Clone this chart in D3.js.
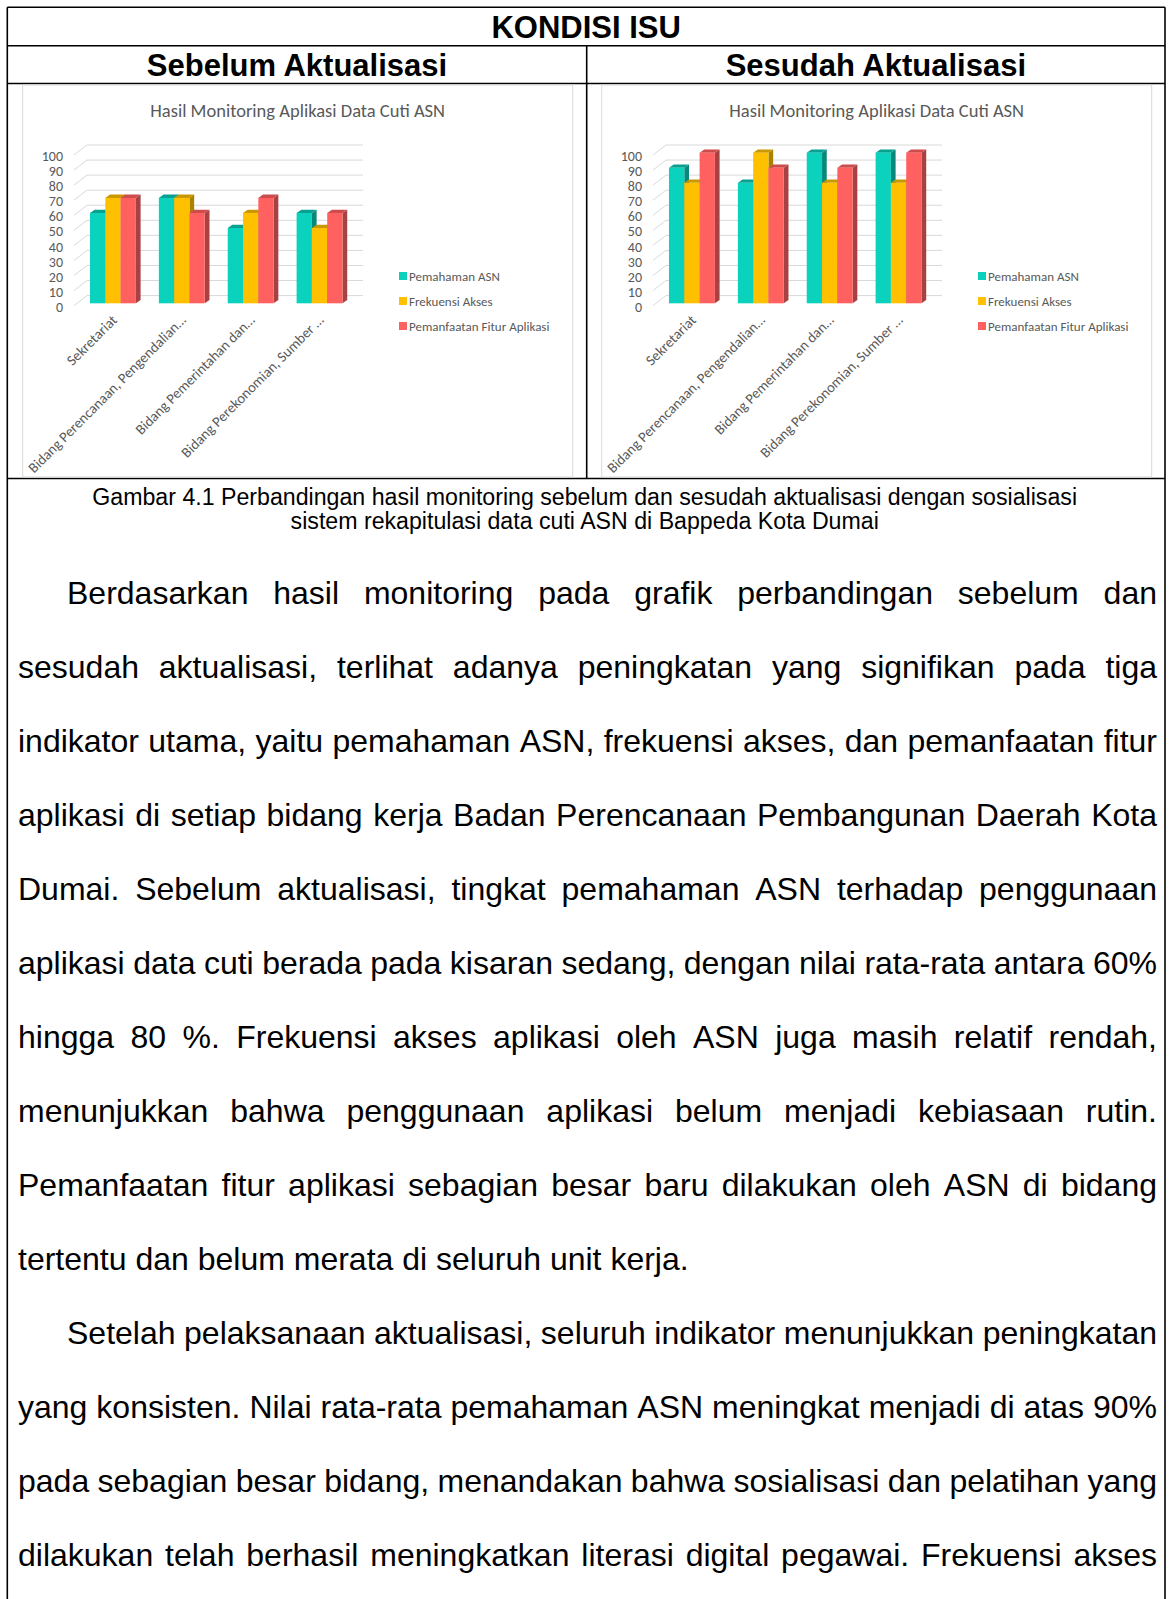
<!DOCTYPE html>
<html>
<head>
<meta charset="utf-8">
<script src="https://cdn.jsdelivr.net/npm/d3@7"></script>
<style>
  body { margin: 0; background: #fff; }
  #page { width: 1170px; height: 1599px; overflow: hidden; }
</style>
</head>
<body>
<div id="page"></div>
<script>
// data grafik
var kategori = ["Sekretariat", "Bidang Perencanaan, Pengendalian\u2026", "Bidang Pemerintahan dan\u2026", "Bidang Perekonomian, Sumber \u2026"];
var seri = ["Pemahaman ASN", "Frekuensi Akses", "Pemanfaatan Fitur Aplikasi"];
var pemahamanSebelum = [60, 70, 50, 60];
var frekuensiSebelum = [70, 70, 60, 50];
var fiturSebelum     = [70, 60, 70, 60];
var pemahamanSesudah = [90, 80, 100, 100];
var frekuensiSesudah = [80, 100, 80, 80];
var fiturSesudah     = [100, 90, 90, 100];
var tickY = [0, 10, 20, 30, 40, 50, 60, 70, 80, 90, 100];
var judul = "Hasil Monitoring Aplikasi Data Cuti ASN";

var keterangan = [
  "Gambar 4.1 Perbandingan hasil monitoring sebelum dan sesudah aktualisasi dengan sosialisasi",
  "sistem rekapitulasi data cuti ASN di Bappeda Kota Dumai"
];
var paragraf1 = [
  "Berdasarkan hasil monitoring pada grafik perbandingan sebelum dan",
  "sesudah aktualisasi, terlihat adanya peningkatan yang signifikan pada tiga",
  "indikator utama, yaitu pemahaman ASN, frekuensi akses, dan pemanfaatan fitur",
  "aplikasi di setiap bidang kerja Badan Perencanaan Pembangunan Daerah Kota",
  "Dumai. Sebelum aktualisasi, tingkat pemahaman ASN terhadap penggunaan",
  "aplikasi data cuti berada pada kisaran sedang, dengan nilai rata-rata antara 60%",
  "hingga 80 %. Frekuensi akses aplikasi oleh ASN juga masih relatif rendah,",
  "menunjukkan bahwa penggunaan aplikasi belum menjadi kebiasaan rutin.",
  "Pemanfaatan fitur aplikasi sebagian besar baru dilakukan oleh ASN di bidang",
  "tertentu dan belum merata di seluruh unit kerja."
];
var paragraf2 = [
  "Setelah pelaksanaan aktualisasi, seluruh indikator menunjukkan peningkatan",
  "yang konsisten. Nilai rata-rata pemahaman ASN meningkat menjadi di atas 90%",
  "pada sebagian besar bidang, menandakan bahwa sosialisasi dan pelatihan yang",
  "dilakukan telah berhasil meningkatkan literasi digital pegawai. Frekuensi akses"
];

var warna = [
  { depan: "#0bd2bd", atas: "#08a091", samping: "#07887b" },
  { depan: "#ffc000", atas: "#c99700", samping: "#aa8200" },
  { depan: "#ff6060", atas: "#cc4c4c", samping: "#a84141" }
];

var W = 1170, H = 1599;
var fontArial = "'Liberation Sans', Arial, sans-serif";
var fontChart = "Carlito, Lato, 'Open Sans', sans-serif";

var svg = d3.select("#page").append("svg")
    .attr("width", W)
    .attr("height", H)
    .style("background-color", "white");

// ---- tabel ----
var kiri = 7.3, kanan = 1165, tengah = 586.7;
var garis = [
  [kiri, 7.3, kanan, 7.3],
  [kiri, 45.7, kanan, 45.7],
  [kiri, 83.5, kanan, 83.5],
  [kiri, 478.5, kanan, 478.5],
  [kiri, 7.3, kiri, H + 5],
  [kanan, 7.3, kanan, H + 5],
  [tengah, 45.7, tengah, 478.5]
];
svg.selectAll("line.tabel")
    .data(garis)
    .enter()
    .append("line")
    .attr("class", "tabel")
    .attr("x1", function(d) { return d[0]; })
    .attr("y1", function(d) { return d[1]; })
    .attr("x2", function(d) { return d[2]; })
    .attr("y2", function(d) { return d[3]; })
    .style("stroke", "#000")
    .style("stroke-width", 1.6);

var judulTabel = [
  { t: "KONDISI ISU", x: (kiri + kanan) / 2, y: 26.5 },
  { t: "Sebelum Aktualisasi", x: (kiri + tengah) / 2, y: 65 },
  { t: "Sesudah Aktualisasi", x: (tengah + kanan) / 2, y: 65 }
];
svg.selectAll("text.kepala")
    .data(judulTabel)
    .enter()
    .append("text")
    .attr("class", "kepala")
    .attr("x", function(d) { return d.x; })
    .attr("y", function(d) { return d.y; })
    .attr("dy", "0.36em")
    .attr("text-anchor", "middle")
    .style("font-family", fontArial).style("font-weight", "bold").style("font-size", "31px")
    .text(function(d) { return d.t; });

// ---- grafik batang 3D ----
function gambarGrafik(geser, nilai) {
  var g = svg.append("g").attr("transform", "translate(" + geser + ",0)");

  g.append("rect")
      .attr("x", 22.7).attr("y", 85)
      .attr("width", 550).attr("height", 392)
      .style("fill", "#fff").style("stroke", "#d9d9d9");

  g.append("text")
      .attr("x", 297.7).attr("y", 117)
      .attr("text-anchor", "middle")
      .style("font-family", fontChart).style("font-size", "18.5px").style("fill", "#595959")
      .text(judul);

  var y = d3.scaleLinear().domain([0, 100]).range([303.3, 152.7]);
  var x0 = d3.scaleBand().domain(kategori).range([78.5, 354]).paddingInner(1 / 3).paddingOuter(1 / 6);
  var x1 = d3.scaleBand().domain(seri).range([0, x0.bandwidth()]);
  var dx = 4.7, dy = -3.3;

  // garis bantu dinding belakang
  g.selectAll("polyline.grid")
      .data(tickY)
      .enter()
      .append("polyline")
      .attr("class", "grid")
      .attr("points", function(d) {
        var v = y(d);
        return [74, v + 2.3, 87, v - 7.7, 363, v - 7.7].join(" ");
      })
      .style("fill", "none")
      .style("stroke", "#d9d9d9")
      .style("stroke-width", 1);

  var sumbuY = g.append("g")
      .attr("transform", "translate(63,3.5)")
      .call(d3.axisLeft(y).tickValues(tickY).tickSize(0).tickPadding(0));
  sumbuY.select(".domain").remove();
  sumbuY.attr("font-family", fontChart).attr("font-size", 14).style("color", "#595959");

  var baris = kategori.map(function(k, i) {
    return { kat: k, bar: seri.map(function(s, j) { return { s: s, j: j, v: nilai[j][i] }; }) };
  });

  g.selectAll("g.kelompok")
      .data(baris)
      .enter()
      .append("g")
      .attr("class", "kelompok")
      .attr("transform", function(d) { return "translate(" + x0(d.kat) + ",0)"; })
      .each(function(d) {
        d3.select(this).selectAll("g.bar")
          .data(d.bar)
          .enter()
          .append("g")
          .each(function(b) {
            var xa = x1(b.s), w = x1.bandwidth(), yt = y(b.v), yb = y(0);
            var el = d3.select(this);
            el.append("polygon")
              .attr("points", [xa + w, yt, xa + w + dx, yt + dy, xa + w + dx, yb + dy, xa + w, yb].join(" "))
              .style("fill", warna[b.j].samping);
            el.append("polygon")
              .attr("points", [xa, yt, xa + dx, yt + dy, xa + w + dx, yt + dy, xa + w, yt].join(" "))
              .style("fill", warna[b.j].atas);
            el.append("rect")
              .attr("x", xa).attr("y", yt)
              .attr("width", w).attr("height", yb - yt)
              .style("fill", warna[b.j].depan);
          });
      });

  g.selectAll("text.kat")
      .data(kategori)
      .enter()
      .append("text")
      .attr("class", "kat")
      .attr("text-anchor", "end")
      .attr("transform", function(d) {
        return "translate(" + (x0(d) + x0.bandwidth() / 2 + 5) + ",321) rotate(-45)";
      })
      .style("font-family", fontChart).style("font-size", "14.5px").style("fill", "#595959")
      .text(function(d) { return d; });

  var leg = g.selectAll("g.leg")
      .data(seri)
      .enter()
      .append("g")
      .attr("class", "leg")
      .attr("transform", function(d, j) { return "translate(399," + (276 + j * 25) + ")"; });
  leg.append("rect")
      .attr("x", 0).attr("y", -4)
      .attr("width", 8).attr("height", 8)
      .style("fill", function(d, j) { return warna[j].depan; });
  leg.append("text")
      .attr("x", 10).attr("dy", "0.35em")
      .style("font-family", fontChart).style("font-size", "13px").style("fill", "#595959")
      .text(function(d) { return d; });
}

gambarGrafik(0, [pemahamanSebelum, frekuensiSebelum, fiturSebelum]);
gambarGrafik(579, [pemahamanSesudah, frekuensiSesudah, fiturSesudah]);

// ---- keterangan gambar ----
var capG = svg.append("g")
    .style("font-family", fontArial).style("font-size", "20px");
capG.selectAll("text")
    .data(keterangan)
    .enter()
    .append("text")
    .attr("x", tengah - 2)
    .attr("y", function(d, i) { return 505 + i * 24; })
    .attr("text-anchor", "middle")
    .text(function(d) { return d; });
// sesuaikan ukuran huruf dengan lebar baris pertama
var lebarCap = capG.select("text").node().getComputedTextLength();
capG.style("font-size", (20 * 985 / lebarCap) + "px");

// ---- paragraf rata kiri-kanan ----
var ukuranTeks = 32, xMulai = 18, xAkhir = 1157, indent = 49, jarakBaris = 74;
var teksG = svg.append("g")
    .style("font-family", fontArial).style("font-size", ukuranTeks + "px").style("fill", "#000");

function tulisBaris(teks, xa, y, rata) {
  var kata = teks.split(" ");
  var b = teksG.append("g");
  var el = kata.map(function(k) { return b.append("text").attr("y", y).text(k); });
  var lebar = el.map(function(t) { return t.node().getComputedTextLength(); });
  var spasi = rata ? (xAkhir - xa - d3.sum(lebar)) / (kata.length - 1) : ukuranTeks * 0.278;
  var x = xa;
  el.forEach(function(t, i) { t.attr("x", x); x += lebar[i] + spasi; });
}

var semua = paragraf1.concat(paragraf2);
semua.forEach(function(t, i) {
  var awal = (i === 0 || i === paragraf1.length);
  var akhir = (i === paragraf1.length - 1);
  tulisBaris(t, awal ? xMulai + indent : xMulai, 604 + i * jarakBaris, !akhir);
});
</script>
</body>
</html>
